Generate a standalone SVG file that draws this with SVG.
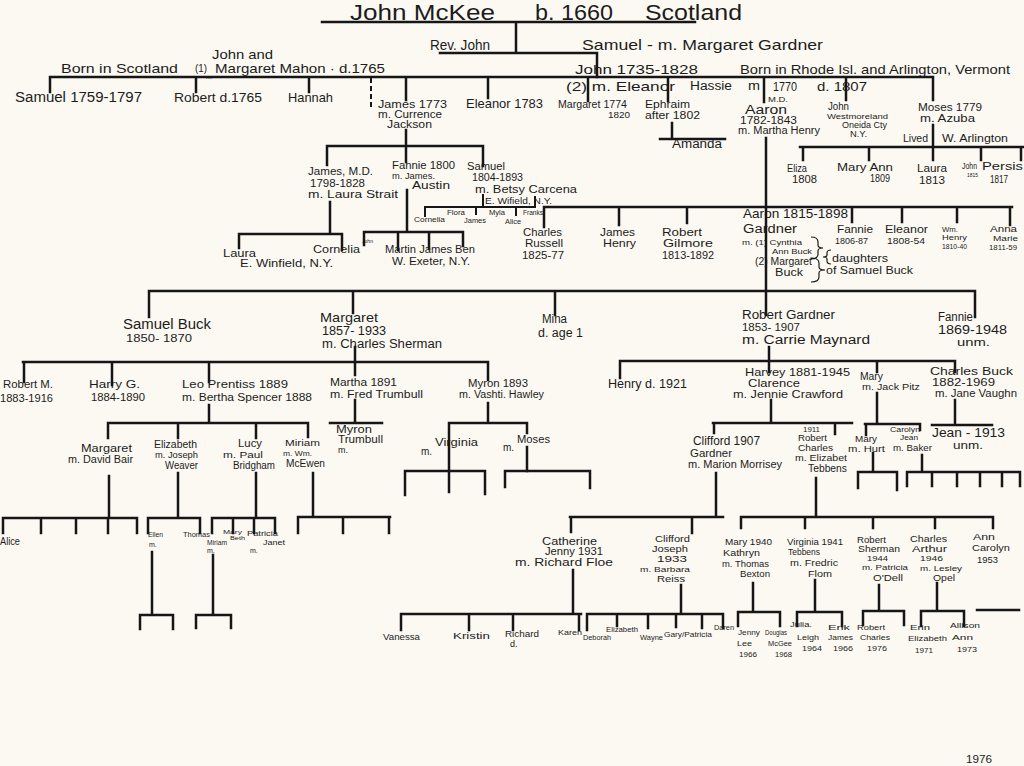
<svg xmlns="http://www.w3.org/2000/svg" width="1024" height="766" viewBox="0 0 1024 766">
<style>
text{font-family:"Liberation Sans",Arial,sans-serif;fill:#1c1c1c}
.ln{fill:none;stroke:#161616;stroke-width:2.5;stroke-linecap:square}
.lt{fill:none;stroke:#161616;stroke-width:2;stroke-linecap:square}
.ds{fill:none;stroke:#161616;stroke-width:2;stroke-dasharray:5 3}
.br{fill:none;stroke:#1c1c1c;stroke-width:1.2}
.s22{font-size:22px}.s15{font-size:15px}.s14{font-size:14px}.s13{font-size:13px}.s12{font-size:12px}.s11{font-size:11px}.s10{font-size:10px}.s9{font-size:9px}.s8{font-size:8px}.s7{font-size:7px}.s6{font-size:6px}
</style>
<rect width="1024" height="766" fill="#fbf9f2"/>
<g id="connectors">
<path class="ln" d="M322,22H695M516,22V53M440,53H597M597,53V77"/>
<path class="ln" d="M50,77H933M50,77V92M196,77V92M309,77V92M406,77V100M488,77V98M588,77V101M668,77V101M764,77V102M846,77V100M933,77V100"/>
<path class="ds" d="M371,78V108"/>
<path class="ln" d="M672,123V139M660,139H725M766,138V315"/>
<path class="ln" d="M933,125V147M800,147H1023M803,147V160M869,147V160M933,147V160M981,147V160M1021,147V160"/>
<path class="ln" d="M406,130V146M327,146H483M327,146V165M406,146V162M483,146V166"/>
<path class="ln" d="M407,190V232M364,232H463M364,232V245M398,232V250M429,232V249M463,232V246"/>
<path class="ln" d="M330,202V234M239,234H342M239,234V248M342,234V250"/>
<path class="lt" d="M483,195V207M535,197V207M425,207H535M425,207V216M476,207V214M516,207V215"/>
<path class="ln" d="M544,207H1012M544,207V227M619,207V225M687,207V223M852,207V222M902,207V222M957,207V222M1010,207V225"/>
<path class="ln" d="M149,291H975M149,291V317M353,291V313M555,291V315M975,291V317"/>
<path class="ln" d="M355,347V375M23,362H488M24,362V382M112,362V385M209,362V382M488,362V380"/>
<path class="ln" d="M769,347V372M620,361H955M620,361V378M877,361V372M955,361V372"/>
<path class="ln" d="M209,405V423M108,423H308M108,423V438M178,423V438M256,423V438M308,423V437"/>
<path class="ln" d="M355,400V423M330,423H382"/>
<path class="ln" d="M488,403V423M449,423H527M449,423V471M527,423V433M527,447V471"/>
<path class="ln" d="M405,471H485M405,471V495M449,471V492M485,471V494M505,471H590M505,471V487M590,471V488"/>
<path class="ln" d="M109,476V518M3,518H137M3,518V533M41,518V533M76,518V533M108,518V533M137,518V533"/>
<path class="ln" d="M178,473V518M148,518H200M148,518V533M200,518V533"/>
<path class="ln" d="M256,473V518M212,518H275M212,518V533M233,518V533M254,518V533M275,518V533"/>
<path class="ln" d="M313,473V517M298,517H390M298,517V533M343,517V533M389,517V533"/>
<path class="ln" d="M152,552V615M140,615H173M140,615V629M173,615V629M213,555V615M196,615H231M196,615V628M231,615V628"/>
<path class="ln" d="M771,400V423M713,423H852M714,423V433M835,423V434"/>
<path class="ln" d="M877,393V424M865,424H920M866,424V435M920,424V430"/>
<path class="ln" d="M873,453V472M858,472H897M858,472V488M897,472V490"/>
<path class="ln" d="M922,455V472M907,472H1020M907,472V486M932,472V486M957,472V486M980,472V486M1002,472V486M1020,472V486"/>
<path class="ln" d="M955,400V425M932,425H992"/>
<path class="ln" d="M716,473V517M570,517H723M571,517V532M692,517V533"/>
<path class="ln" d="M816,478V517M741,517H993M741,517V528M805,517V528M873,517V528M935,517V528M993,517V528"/>
<path class="ln" d="M573,570V614M401,614H581M401,614V630M469,614V630M513,614V630M579,614V630"/>
<path class="ln" d="M681,585V614M587,614H723M587,614V630M617,614V626M648,614V628M676,614V627M702,614V628M723,614V628"/>
<path class="ln" d="M753,583V612M738,612H780M738,612V626M780,612V626"/>
<path class="ln" d="M815,580V612M797,612H842M797,612V626M842,612V626"/>
<path class="ln" d="M879,585V611M863,611H904M863,611V625M904,611V625"/>
<path class="ln" d="M937,583V611M921,611H964M921,611V626M964,611V626"/>
<path class="ln" d="M977,610H1019"/>
</g>
<g id="n-title"><text class="s22" x="350" y="20" textLength="145" lengthAdjust="spacingAndGlyphs">John McKee</text><text class="s22" x="535" y="20" textLength="78" lengthAdjust="spacingAndGlyphs">b. 1660</text><text class="s22" x="645" y="20" textLength="97" lengthAdjust="spacingAndGlyphs">Scotland</text></g>
<g id="n-revjohn"><text class="s14" x="430" y="50" textLength="60" lengthAdjust="spacingAndGlyphs">Rev. John</text></g>
<g id="n-samuel-gardner"><text class="s15" x="582" y="50" textLength="241" lengthAdjust="spacingAndGlyphs">Samuel - m. Margaret Gardner</text></g>
<g id="n-john-mahon"><text class="s13" x="61" y="73" textLength="117" lengthAdjust="spacingAndGlyphs">Born in Scotland</text><text class="s13" x="212" y="59" textLength="61" lengthAdjust="spacingAndGlyphs">John and</text><text class="s10" x="195" y="72" textLength="12" lengthAdjust="spacingAndGlyphs">(1)</text><text class="s6" x="206" y="79">m.</text><text class="s13" x="215" y="73" textLength="170" lengthAdjust="spacingAndGlyphs">Margaret Mahon · d.1765</text></g>
<g id="n-john1735"><text class="s13" x="575" y="74" textLength="123" lengthAdjust="spacingAndGlyphs">John  1735-1828</text><text class="s13" x="566" y="91" textLength="109" lengthAdjust="spacingAndGlyphs">(2) m. Eleanor</text><text class="s12" x="690" y="90" textLength="42" lengthAdjust="spacingAndGlyphs">Hassie</text><text class="s12" x="748" y="90" textLength="12" lengthAdjust="spacingAndGlyphs">m</text><text class="s12" x="773" y="91" textLength="24" lengthAdjust="spacingAndGlyphs">1770</text><text class="s12" x="817" y="91" textLength="50" lengthAdjust="spacingAndGlyphs">d. 1807</text><text class="s13" x="740" y="74" textLength="270" lengthAdjust="spacingAndGlyphs">Born in Rhode Isl. and Arlington, Vermont</text></g>
<g id="n-samuel1759"><text class="s14" x="15" y="102" textLength="127" lengthAdjust="spacingAndGlyphs">Samuel  1759-1797</text></g>
<g id="n-robert1765"><text class="s13" x="174" y="102" textLength="88" lengthAdjust="spacingAndGlyphs">Robert d.1765</text></g>
<g id="n-hannah"><text class="s13" x="288" y="102" textLength="45" lengthAdjust="spacingAndGlyphs">Hannah</text></g>
<g id="n-james1773"><text class="s11" x="378" y="108" textLength="69" lengthAdjust="spacingAndGlyphs">James 1773</text><text class="s10" x="378" y="118" textLength="64" lengthAdjust="spacingAndGlyphs">m. Currence</text><text class="s10" x="387" y="128" textLength="45" lengthAdjust="spacingAndGlyphs">Jackson</text></g>
<g id="n-eleanor1783"><text class="s13" x="466" y="108" textLength="77" lengthAdjust="spacingAndGlyphs">Eleanor 1783</text></g>
<g id="n-margaret1774"><text class="s11" x="558" y="108" textLength="69" lengthAdjust="spacingAndGlyphs">Margaret 1774</text><text class="s9" x="608" y="118" textLength="22" lengthAdjust="spacingAndGlyphs">1820</text></g>
<g id="n-ephraim"><text class="s11" x="645" y="108" textLength="45" lengthAdjust="spacingAndGlyphs">Ephraim</text><text class="s10" x="645" y="119" textLength="55" lengthAdjust="spacingAndGlyphs">after 1802</text></g>
<g id="n-amanda"><text class="s12" x="672" y="148" textLength="50" lengthAdjust="spacingAndGlyphs">Amanda</text></g>
<g id="n-aaron1782"><text class="s8" x="768" y="102" textLength="20" lengthAdjust="spacingAndGlyphs">M.D.</text><text class="s12" x="745" y="114" textLength="42" lengthAdjust="spacingAndGlyphs">Aaron</text><text class="s10" x="740" y="124" textLength="57" lengthAdjust="spacingAndGlyphs">1782-1843</text><text class="s10" x="738" y="134" textLength="82" lengthAdjust="spacingAndGlyphs">m. Martha Henry</text></g>
<g id="n-john-westmoreland"><text class="s11" x="828" y="110" textLength="21" lengthAdjust="spacingAndGlyphs">John</text><text class="s8" x="827" y="119" textLength="61" lengthAdjust="spacingAndGlyphs">Westmoreland</text><text class="s9" x="842" y="128" textLength="45" lengthAdjust="spacingAndGlyphs">Oneida Cty</text><text class="s9" x="850" y="137" textLength="17" lengthAdjust="spacingAndGlyphs">N.Y.</text></g>
<g id="n-moses1779"><text class="s11" x="918" y="111" textLength="64" lengthAdjust="spacingAndGlyphs">Moses 1779</text><text class="s10" x="920" y="122" textLength="55" lengthAdjust="spacingAndGlyphs">m. Azuba</text><text class="s10" x="903" y="142" textLength="25" lengthAdjust="spacingAndGlyphs">Lived</text><text class="s10" x="942" y="142" textLength="66" lengthAdjust="spacingAndGlyphs">W. Arlington</text></g>
<g id="n-eliza"><text class="s10" x="787" y="172" textLength="20" lengthAdjust="spacingAndGlyphs">Eliza</text><text class="s10" x="792" y="183" textLength="25" lengthAdjust="spacingAndGlyphs">1808</text></g>
<g id="n-maryann"><text class="s10" x="837" y="171" textLength="56" lengthAdjust="spacingAndGlyphs">Mary Ann</text><text class="s10" x="870" y="182" textLength="20" lengthAdjust="spacingAndGlyphs">1809</text></g>
<g id="n-laura1813"><text class="s10" x="917" y="172" textLength="30" lengthAdjust="spacingAndGlyphs">Laura</text><text class="s10" x="919" y="184" textLength="26" lengthAdjust="spacingAndGlyphs">1813</text></g>
<g id="n-john1815"><text class="s9" x="962" y="169" textLength="15" lengthAdjust="spacingAndGlyphs">John</text><text class="s6" x="967" y="177" textLength="11" lengthAdjust="spacingAndGlyphs">1815</text></g>
<g id="n-persis"><text class="s10" x="982" y="170" textLength="41" lengthAdjust="spacingAndGlyphs">Persis</text><text class="s10" x="990" y="183" textLength="18" lengthAdjust="spacingAndGlyphs">1817</text></g>
<g id="n-james-md"><text class="s11" x="308" y="175" textLength="65" lengthAdjust="spacingAndGlyphs">James, M.D.</text><text class="s11" x="310" y="187" textLength="55" lengthAdjust="spacingAndGlyphs">1798-1828</text><text class="s11" x="308" y="198" textLength="90" lengthAdjust="spacingAndGlyphs">m. Laura Strait</text></g>
<g id="n-fannie1800"><text class="s10" x="392" y="169" textLength="63" lengthAdjust="spacingAndGlyphs">Fannie 1800</text><text class="s9" x="392" y="179" textLength="43" lengthAdjust="spacingAndGlyphs">m. James.</text><text class="s10" x="412" y="189" textLength="38" lengthAdjust="spacingAndGlyphs">Austin</text></g>
<g id="n-samuel1804"><text class="s10" x="467" y="170" textLength="38" lengthAdjust="spacingAndGlyphs">Samuel</text><text class="s10" x="472" y="181" textLength="51" lengthAdjust="spacingAndGlyphs">1804-1893</text><text class="s11" x="475" y="193" textLength="102" lengthAdjust="spacingAndGlyphs">m. Betsy Carcena</text><text class="s9" x="485" y="204" textLength="67" lengthAdjust="spacingAndGlyphs">E. Wifield, N.Y.</text></g>
<g id="n-laura"><text class="s10" x="223" y="257" textLength="33" lengthAdjust="spacingAndGlyphs">Laura</text><text class="s10" x="240" y="267" textLength="93" lengthAdjust="spacingAndGlyphs">E. Winfield, N.Y.</text></g>
<g id="n-cornelia"><text class="s10" x="313" y="253" textLength="47" lengthAdjust="spacingAndGlyphs">Cornelia</text><text class="s6" x="362" y="243" textLength="11" lengthAdjust="spacingAndGlyphs">John</text></g>
<g id="n-martin-james-ben"><text class="s11" x="385" y="253" textLength="90" lengthAdjust="spacingAndGlyphs">Martin James  Ben</text><text class="s11" x="392" y="265" textLength="78" lengthAdjust="spacingAndGlyphs">W. Exeter, N.Y.</text></g>
<g id="n-samuel-children"><text class="s7" x="414" y="222" textLength="31" lengthAdjust="spacingAndGlyphs">Cornelia</text><text class="s7" x="447" y="215" textLength="18" lengthAdjust="spacingAndGlyphs">Flora</text><text class="s7" x="464" y="223" textLength="22" lengthAdjust="spacingAndGlyphs">James</text><text class="s7" x="489" y="215" textLength="16" lengthAdjust="spacingAndGlyphs">Myla</text><text class="s7" x="505" y="224" textLength="16" lengthAdjust="spacingAndGlyphs">Alice</text><text class="s7" x="523" y="215" textLength="20" lengthAdjust="spacingAndGlyphs">Franks</text></g>
<g id="n-charles-russell"><text class="s11" x="523" y="236" textLength="39" lengthAdjust="spacingAndGlyphs">Charles</text><text class="s11" x="525" y="247" textLength="38" lengthAdjust="spacingAndGlyphs">Russell</text><text class="s11" x="522" y="259" textLength="42" lengthAdjust="spacingAndGlyphs">1825-77</text></g>
<g id="n-james-henry"><text class="s11" x="600" y="236" textLength="35" lengthAdjust="spacingAndGlyphs">James</text><text class="s11" x="603" y="247" textLength="33" lengthAdjust="spacingAndGlyphs">Henry</text></g>
<g id="n-robert-gilmore"><text class="s11" x="662" y="236" textLength="40" lengthAdjust="spacingAndGlyphs">Robert</text><text class="s11" x="663" y="247" textLength="50" lengthAdjust="spacingAndGlyphs">Gilmore</text><text class="s10" x="662" y="259" textLength="52" lengthAdjust="spacingAndGlyphs">1813-1892</text></g>
<g id="n-aaron1815"><text class="s13" x="743" y="218" textLength="105" lengthAdjust="spacingAndGlyphs">Aaron 1815-1898</text><text class="s12" x="743" y="233" textLength="54" lengthAdjust="spacingAndGlyphs">Gardner</text><text class="s8" x="742" y="245" textLength="60" lengthAdjust="spacingAndGlyphs">m. (1) Cynthia</text><text class="s8" x="772" y="254" textLength="40" lengthAdjust="spacingAndGlyphs">Ann Buck</text><text class="s10" x="755" y="265" textLength="57" lengthAdjust="spacingAndGlyphs">(2) Margaret</text><text class="s10" x="775" y="276" textLength="28" lengthAdjust="spacingAndGlyphs">Buck</text><path class="br" d="M811,237q7,0 7,5v3q0,3 5,3q-5,0 -5,3v3q0,5 -7,5M811,258q8,0 8,5v4q0,3 6,3q-6,0 -6,3v4q0,5 -8,5M831,250q-4,0 -4,3v2q0,2 -4,2q4,0 4,2v2q0,3 4,3"/><text class="s11" x="832" y="262" textLength="56" lengthAdjust="spacingAndGlyphs">daughters</text><text class="s11" x="826" y="274" textLength="87" lengthAdjust="spacingAndGlyphs">of Samuel Buck</text></g>
<g id="n-fannie1806"><text class="s10" x="837" y="233" textLength="36" lengthAdjust="spacingAndGlyphs">Fannie</text><text class="s9" x="835" y="244" textLength="33" lengthAdjust="spacingAndGlyphs">1806-87</text></g>
<g id="n-eleanor1808"><text class="s10" x="885" y="233" textLength="43" lengthAdjust="spacingAndGlyphs">Eleanor</text><text class="s9" x="887" y="244" textLength="38" lengthAdjust="spacingAndGlyphs">1808-54</text></g>
<g id="n-wm-henry"><text class="s8" x="942" y="232" textLength="16" lengthAdjust="spacingAndGlyphs">Wm.</text><text class="s8" x="942" y="240" textLength="25" lengthAdjust="spacingAndGlyphs">Henry</text><text class="s8" x="942" y="249" textLength="25" lengthAdjust="spacingAndGlyphs">1810-40</text></g>
<g id="n-anna-marie"><text class="s9" x="990" y="232" textLength="27" lengthAdjust="spacingAndGlyphs">Anna</text><text class="s8" x="993" y="241" textLength="25" lengthAdjust="spacingAndGlyphs">Marie</text><text class="s8" x="989" y="250" textLength="28" lengthAdjust="spacingAndGlyphs">1811-59</text></g>
<g id="n-samuel-buck"><text class="s14" x="123" y="329" textLength="88" lengthAdjust="spacingAndGlyphs">Samuel Buck</text><text class="s11" x="126" y="342" textLength="66" lengthAdjust="spacingAndGlyphs">1850- 1870</text></g>
<g id="n-margaret1857"><text class="s13" x="320" y="322" textLength="58" lengthAdjust="spacingAndGlyphs">Margaret</text><text class="s12" x="322" y="335" textLength="64" lengthAdjust="spacingAndGlyphs">1857- 1933</text><text class="s12" x="322" y="348" textLength="120" lengthAdjust="spacingAndGlyphs">m. Charles Sherman</text></g>
<g id="n-mina"><text class="s12" x="542" y="323" textLength="25" lengthAdjust="spacingAndGlyphs">Mina</text><text class="s12" x="538" y="337" textLength="45" lengthAdjust="spacingAndGlyphs">d. age 1</text></g>
<g id="n-robert-gardner"><text class="s12" x="742" y="319" textLength="93" lengthAdjust="spacingAndGlyphs">Robert Gardner</text><text class="s11" x="742" y="331" textLength="58" lengthAdjust="spacingAndGlyphs">1853- 1907</text><text class="s12" x="742" y="344" textLength="128" lengthAdjust="spacingAndGlyphs">m. Carrie  Maynard</text></g>
<g id="n-fannie1869"><text class="s12" x="938" y="321" textLength="35" lengthAdjust="spacingAndGlyphs">Fannie</text><text class="s12" x="938" y="334" textLength="69" lengthAdjust="spacingAndGlyphs">1869-1948</text><text class="s11" x="957" y="346" textLength="33" lengthAdjust="spacingAndGlyphs">unm.</text></g>
<g id="n-robert-m"><text class="s11" x="3" y="388" textLength="50" lengthAdjust="spacingAndGlyphs">Robert M.</text><text class="s11" x="0" y="402" textLength="53" lengthAdjust="spacingAndGlyphs">1883-1916</text></g>
<g id="n-harry-g"><text class="s11" x="89" y="388" textLength="51" lengthAdjust="spacingAndGlyphs">Harry G.</text><text class="s11" x="91" y="401" textLength="54" lengthAdjust="spacingAndGlyphs">1884-1890</text></g>
<g id="n-leo"><text class="s11" x="182" y="388" textLength="106" lengthAdjust="spacingAndGlyphs">Leo  Prentiss 1889</text><text class="s11" x="182" y="401" textLength="130" lengthAdjust="spacingAndGlyphs">m.  Bertha Spencer 1888</text></g>
<g id="n-martha"><text class="s11" x="330" y="386" textLength="67" lengthAdjust="spacingAndGlyphs">Martha 1891</text><text class="s10" x="330" y="398" textLength="93" lengthAdjust="spacingAndGlyphs">m. Fred Trumbull</text></g>
<g id="n-myron1893"><text class="s10" x="468" y="387" textLength="60" lengthAdjust="spacingAndGlyphs">Myron  1893</text><text class="s10" x="459" y="398" textLength="85" lengthAdjust="spacingAndGlyphs">m. Vashti. Hawley</text></g>
<g id="n-henry1921"><text class="s12" x="608" y="388" textLength="79" lengthAdjust="spacingAndGlyphs">Henry d. 1921</text></g>
<g id="n-harvey"><text class="s11" x="745" y="376" textLength="105" lengthAdjust="spacingAndGlyphs">Harvey 1881-1945</text><text class="s11" x="748" y="387" textLength="52" lengthAdjust="spacingAndGlyphs">Clarence</text><text class="s11" x="733" y="398" textLength="110" lengthAdjust="spacingAndGlyphs">m. Jennie Crawford</text></g>
<g id="n-mary-pitz"><text class="s10" x="860" y="380" textLength="23" lengthAdjust="spacingAndGlyphs">Mary</text><text class="s9" x="862" y="390" textLength="58" lengthAdjust="spacingAndGlyphs">m. Jack Pitz</text></g>
<g id="n-charles-buck"><text class="s11" x="930" y="375" textLength="83" lengthAdjust="spacingAndGlyphs">Charles Buck</text><text class="s10" x="932" y="386" textLength="63" lengthAdjust="spacingAndGlyphs">1882-1969</text><text class="s10" x="935" y="397" textLength="82" lengthAdjust="spacingAndGlyphs">m. Jane Vaughn</text></g>
<g id="n-margaret-bair"><text class="s11" x="81" y="452" textLength="51" lengthAdjust="spacingAndGlyphs">Margaret</text><text class="s10" x="68" y="463" textLength="65" lengthAdjust="spacingAndGlyphs">m. David Bair</text></g>
<g id="n-elizabeth-weaver"><text class="s10" x="154" y="448" textLength="43" lengthAdjust="spacingAndGlyphs">Elizabeth</text><text class="s9" x="155" y="458" textLength="43" lengthAdjust="spacingAndGlyphs">m. Joseph</text><text class="s10" x="165" y="469" textLength="33" lengthAdjust="spacingAndGlyphs">Weaver</text></g>
<g id="n-lucy"><text class="s10" x="238" y="447" textLength="24" lengthAdjust="spacingAndGlyphs">Lucy</text><text class="s9" x="223" y="458" textLength="40" lengthAdjust="spacingAndGlyphs">m. Paul</text><text class="s10" x="233" y="469" textLength="42" lengthAdjust="spacingAndGlyphs">Bridgham</text></g>
<g id="n-miriam-mcewen"><text class="s9" x="285" y="446" textLength="35" lengthAdjust="spacingAndGlyphs">Miriam</text><text class="s8" x="283" y="456" textLength="29" lengthAdjust="spacingAndGlyphs">m. Wm.</text><text class="s10" x="286" y="467" textLength="39" lengthAdjust="spacingAndGlyphs">McEwen</text></g>
<g id="n-myron-trumbull"><text class="s10" x="336" y="433" textLength="36" lengthAdjust="spacingAndGlyphs">Myron</text><text class="s10" x="338" y="443" textLength="45" lengthAdjust="spacingAndGlyphs">Trumbull</text><text class="s9" x="338" y="453">m.</text></g>
<g id="n-virginia-hawley"><text class="s11" x="435" y="446" textLength="43" lengthAdjust="spacingAndGlyphs">Virginia</text><text class="s10" x="421" y="455">m.</text></g>
<g id="n-moses-hawley"><text class="s11" x="517" y="443" textLength="33" lengthAdjust="spacingAndGlyphs">Moses</text><text class="s10" x="503" y="451">m.</text></g>
<g id="n-clifford1907"><text class="s12" x="693" y="445" textLength="67" lengthAdjust="spacingAndGlyphs">Clifford 1907</text><text class="s11" x="690" y="457" textLength="42" lengthAdjust="spacingAndGlyphs">Gardner</text><text class="s10" x="688" y="468" textLength="94" lengthAdjust="spacingAndGlyphs">m. Marion Morrisey</text></g>
<g id="n-robert1911"><text class="s8" x="803" y="432" textLength="17" lengthAdjust="spacingAndGlyphs">1911</text><text class="s9" x="798" y="441" textLength="29" lengthAdjust="spacingAndGlyphs">Robert</text><text class="s9" x="798" y="451" textLength="35" lengthAdjust="spacingAndGlyphs">Charles</text><text class="s9" x="795" y="461" textLength="52" lengthAdjust="spacingAndGlyphs">m. Elizabet</text><text class="s10" x="808" y="472" textLength="39" lengthAdjust="spacingAndGlyphs">Tebbens</text></g>
<g id="n-mary-hurt"><text class="s9" x="855" y="442" textLength="22" lengthAdjust="spacingAndGlyphs">Mary</text><text class="s9" x="848" y="452" textLength="37" lengthAdjust="spacingAndGlyphs">m. Hurt</text></g>
<g id="n-carolyn-baker"><text class="s7" x="890" y="432" textLength="30" lengthAdjust="spacingAndGlyphs">Carolyn</text><text class="s7" x="900" y="440" textLength="18" lengthAdjust="spacingAndGlyphs">Jean</text><text class="s9" x="893" y="451" textLength="39" lengthAdjust="spacingAndGlyphs">m. Baker</text></g>
<g id="n-jean1913"><text class="s12" x="932" y="437" textLength="73" lengthAdjust="spacingAndGlyphs">Jean - 1913</text><text class="s11" x="953" y="449" textLength="30" lengthAdjust="spacingAndGlyphs">unm.</text></g>
<g id="n-alice"><text class="s10" x="0" y="545" textLength="20" lengthAdjust="spacingAndGlyphs">Alice</text></g>
<g id="n-ellen"><text class="s7" x="148" y="537" textLength="15" lengthAdjust="spacingAndGlyphs">Ellen</text><text class="s7" x="149" y="547">m.</text></g>
<g id="n-thomas"><text class="s7" x="183" y="537" textLength="27" lengthAdjust="spacingAndGlyphs">Thomas</text></g>
<g id="n-miriam-small"><text class="s7" x="207" y="545" textLength="20" lengthAdjust="spacingAndGlyphs">Miriam</text><text class="s7" x="207" y="553">m.</text></g>
<g id="n-mary-beth"><text class="s6" x="223" y="534" textLength="19" lengthAdjust="spacingAndGlyphs">Mary</text><text class="s6" x="230" y="540" textLength="15" lengthAdjust="spacingAndGlyphs">Beth</text></g>
<g id="n-patricia"><text class="s7" x="247" y="536" textLength="31" lengthAdjust="spacingAndGlyphs">Patricia</text></g>
<g id="n-janet"><text class="s7" x="263" y="545" textLength="22" lengthAdjust="spacingAndGlyphs">Janet</text><text class="s7" x="250" y="553">m.</text></g>
<g id="n-catherine"><text class="s10" x="542" y="545" textLength="55" lengthAdjust="spacingAndGlyphs">Catherine</text><text class="s10" x="545" y="555" textLength="58" lengthAdjust="spacingAndGlyphs">Jenny 1931</text><text class="s11" x="515" y="566" textLength="98" lengthAdjust="spacingAndGlyphs">m. Richard Floe</text></g>
<g id="n-clifford-joseph"><text class="s9" x="655" y="542" textLength="35" lengthAdjust="spacingAndGlyphs">Clifford</text><text class="s9" x="652" y="552" textLength="36" lengthAdjust="spacingAndGlyphs">Joseph</text><text class="s9" x="657" y="562" textLength="30" lengthAdjust="spacingAndGlyphs">1933</text><text class="s8" x="640" y="572" textLength="50" lengthAdjust="spacingAndGlyphs">m. Barbara</text><text class="s9" x="657" y="582" textLength="28" lengthAdjust="spacingAndGlyphs">Reiss</text></g>
<g id="n-mary1940"><text class="s9" x="725" y="545" textLength="47" lengthAdjust="spacingAndGlyphs">Mary 1940</text><text class="s9" x="723" y="556" textLength="37" lengthAdjust="spacingAndGlyphs">Kathryn</text><text class="s9" x="722" y="567" textLength="47" lengthAdjust="spacingAndGlyphs">m. Thomas</text><text class="s9" x="740" y="577" textLength="30" lengthAdjust="spacingAndGlyphs">Bexton</text></g>
<g id="n-virginia1941"><text class="s9" x="787" y="545" textLength="56" lengthAdjust="spacingAndGlyphs">Virginia 1941</text><text class="s9" x="788" y="555" textLength="32" lengthAdjust="spacingAndGlyphs">Tebbens</text><text class="s9" x="790" y="566" textLength="48" lengthAdjust="spacingAndGlyphs">m. Fredric</text><text class="s9" x="808" y="577" textLength="24" lengthAdjust="spacingAndGlyphs">Flom</text></g>
<g id="n-robert-sherman"><text class="s9" x="857" y="543" textLength="29" lengthAdjust="spacingAndGlyphs">Robert</text><text class="s9" x="858" y="552" textLength="42" lengthAdjust="spacingAndGlyphs">Sherman</text><text class="s8" x="867" y="561" textLength="21" lengthAdjust="spacingAndGlyphs">1944</text><text class="s8" x="862" y="570" textLength="46" lengthAdjust="spacingAndGlyphs">m. Patricia</text><text class="s9" x="873" y="581" textLength="30" lengthAdjust="spacingAndGlyphs">O'Dell</text></g>
<g id="n-charles-arthur"><text class="s9" x="910" y="542" textLength="37" lengthAdjust="spacingAndGlyphs">Charles</text><text class="s9" x="912" y="552" textLength="35" lengthAdjust="spacingAndGlyphs">Arthur</text><text class="s8" x="920" y="561" textLength="23" lengthAdjust="spacingAndGlyphs">1946</text><text class="s8" x="920" y="571" textLength="42" lengthAdjust="spacingAndGlyphs">m. Lesley</text><text class="s9" x="933" y="581" textLength="22" lengthAdjust="spacingAndGlyphs">Opel</text></g>
<g id="n-ann-carolyn"><text class="s9" x="973" y="540" textLength="22" lengthAdjust="spacingAndGlyphs">Ann</text><text class="s9" x="972" y="551" textLength="38" lengthAdjust="spacingAndGlyphs">Carolyn</text><text class="s9" x="977" y="563" textLength="21" lengthAdjust="spacingAndGlyphs">1953</text></g>
<g id="n-vanessa"><text class="s9" x="383" y="640" textLength="37" lengthAdjust="spacingAndGlyphs">Vanessa</text></g>
<g id="n-kristin"><text class="s9" x="453" y="639" textLength="37" lengthAdjust="spacingAndGlyphs">Kristin</text></g>
<g id="n-richard"><text class="s9" x="505" y="637" textLength="34" lengthAdjust="spacingAndGlyphs">Richard</text><text class="s9" x="510" y="647">d.</text></g>
<g id="n-karen"><text class="s8" x="558" y="635" textLength="24" lengthAdjust="spacingAndGlyphs">Karen</text></g>
<g id="n-deborah"><text class="s7" x="583" y="640" textLength="28" lengthAdjust="spacingAndGlyphs">Deborah</text></g>
<g id="n-elizabeth"><text class="s7" x="606" y="632" textLength="32" lengthAdjust="spacingAndGlyphs">Elizabeth</text></g>
<g id="n-wayne"><text class="s8" x="640" y="640" textLength="23" lengthAdjust="spacingAndGlyphs">Wayne</text></g>
<g id="n-gary-patricia"><text class="s7" x="664" y="637" textLength="48" lengthAdjust="spacingAndGlyphs">Gary/Patricia</text></g>
<g id="n-daren"><text class="s7" x="714" y="630" textLength="20" lengthAdjust="spacingAndGlyphs">Daren</text></g>
<g id="n-jenny-lee"><text class="s8" x="738" y="635" textLength="22" lengthAdjust="spacingAndGlyphs">Jenny</text><text class="s8" x="737" y="646" textLength="15" lengthAdjust="spacingAndGlyphs">Lee</text><text class="s8" x="739" y="657" textLength="18" lengthAdjust="spacingAndGlyphs">1966</text></g>
<g id="n-douglas"><text class="s7" x="765" y="635" textLength="22" lengthAdjust="spacingAndGlyphs">Douglas</text><text class="s8" x="768" y="646" textLength="24" lengthAdjust="spacingAndGlyphs">McGee</text><text class="s8" x="775" y="657" textLength="17" lengthAdjust="spacingAndGlyphs">1968</text></g>
<g id="n-julia"><text class="s8" x="790" y="627" textLength="22" lengthAdjust="spacingAndGlyphs">Julia.</text><text class="s8" x="797" y="640" textLength="22" lengthAdjust="spacingAndGlyphs">Leigh</text><text class="s8" x="802" y="651" textLength="20" lengthAdjust="spacingAndGlyphs">1964</text></g>
<g id="n-erik"><text class="s8" x="828" y="630" textLength="22" lengthAdjust="spacingAndGlyphs">Erik</text><text class="s8" x="828" y="640" textLength="25" lengthAdjust="spacingAndGlyphs">James</text><text class="s8" x="833" y="651" textLength="20" lengthAdjust="spacingAndGlyphs">1966</text></g>
<g id="n-robert-charles"><text class="s8" x="857" y="630" textLength="28" lengthAdjust="spacingAndGlyphs">Robert</text><text class="s8" x="860" y="640" textLength="30" lengthAdjust="spacingAndGlyphs">Charles</text><text class="s8" x="867" y="651" textLength="20" lengthAdjust="spacingAndGlyphs">1976</text></g>
<g id="n-erin"><text class="s8" x="910" y="630" textLength="20" lengthAdjust="spacingAndGlyphs">Erin</text><text class="s8" x="908" y="641" textLength="39" lengthAdjust="spacingAndGlyphs">Elizabeth</text><text class="s8" x="915" y="653" textLength="18" lengthAdjust="spacingAndGlyphs">1971</text></g>
<g id="n-allison"><text class="s8" x="950" y="628" textLength="30" lengthAdjust="spacingAndGlyphs">Allison</text><text class="s8" x="952" y="640" textLength="21" lengthAdjust="spacingAndGlyphs">Ann</text><text class="s8" x="957" y="652" textLength="20" lengthAdjust="spacingAndGlyphs">1973</text></g>
<g id="n-date"><text class="s11" x="966" y="763" textLength="26" lengthAdjust="spacingAndGlyphs">1976</text></g>
</svg>
